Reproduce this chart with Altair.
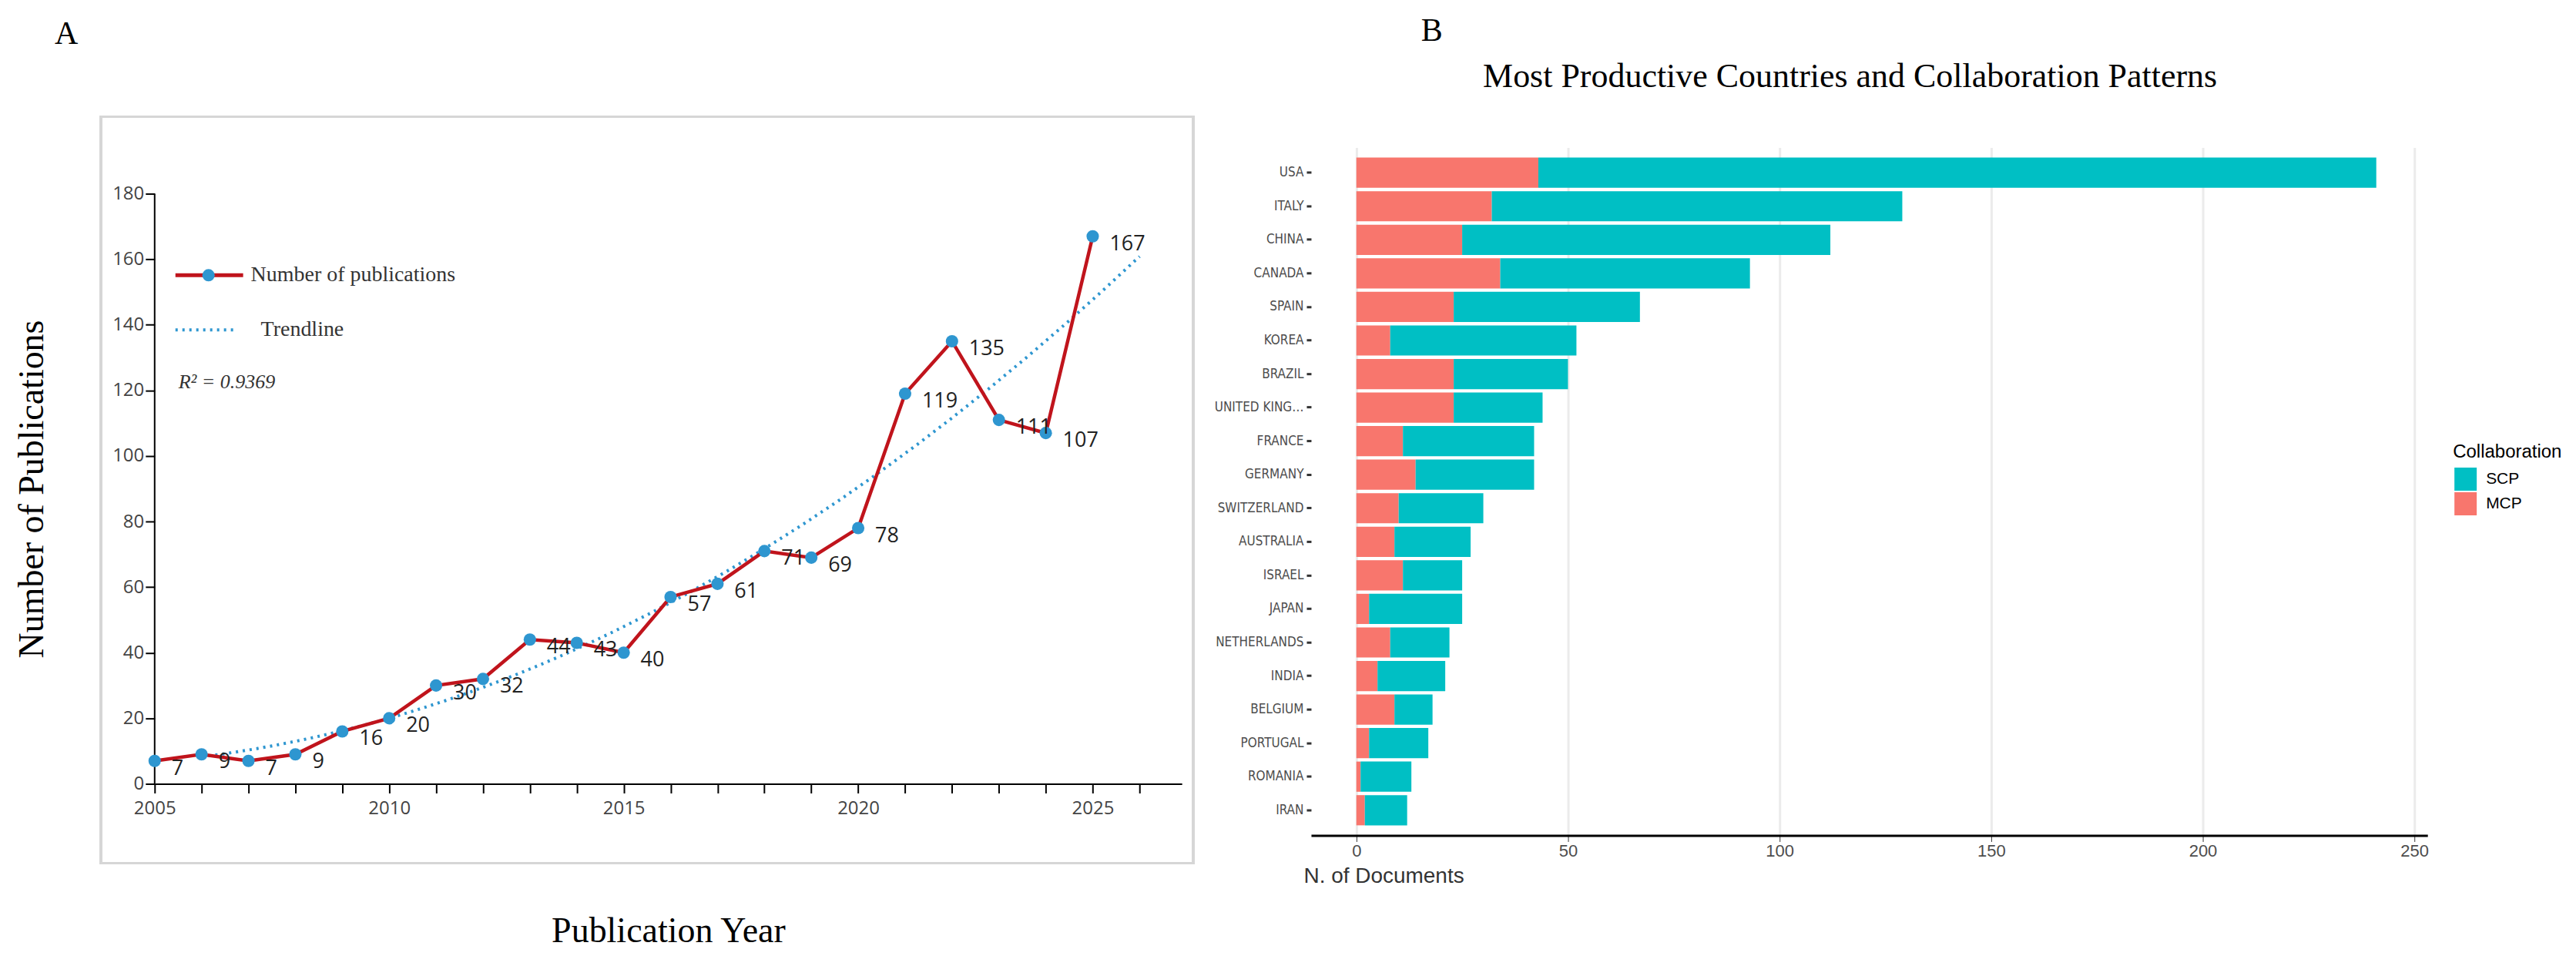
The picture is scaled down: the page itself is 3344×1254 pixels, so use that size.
import pandas as pd
import altair as alt

# Panel A data
years = list(range(2005, 2026))
pubs = [7, 9, 7, 9, 16, 20, 30, 32, 44, 43, 40, 57, 61, 71, 69, 78, 119, 135, 111, 107, 167]

# Panel B data
countries = ['USA', 'ITALY', 'CHINA', 'CANADA', 'SPAIN', 'KOREA', 'BRAZIL', 'UNITED KINGDOM',
             'FRANCE', 'GERMANY', 'SWITZERLAND', 'AUSTRALIA', 'ISRAEL', 'JAPAN', 'NETHERLANDS',
             'INDIA', 'BELGIUM', 'PORTUGAL', 'ROMANIA', 'IRAN']
totals = [241, 129, 112, 93, 67, 52, 50, 44, 42, 42, 30, 27, 25, 25, 22, 21, 18, 17, 13, 12]
mcp = [43, 32, 25, 34, 23, 8, 23, 23, 11, 14, 10, 9, 11, 3, 8, 5, 9, 3, 1, 2]
collab = ['SCP', 'MCP']

RED = '#C0141C'
BLUE = '#2E96D0'
TEAL, SALMON = '#00BFC4', '#F8766D'
W1, H1 = 1335, 767
E = 60  # empty band above the 180 tick so the two panels sit as in the figure
YMAX = 180 * (H1 + E) / H1

df_a = pd.DataFrame({'year': years, 'pubs': pubs})
axis_df = pd.DataFrame({'lo': [0], 'hi': [180]})

xa = alt.X('year:Q', title='Publication Year', scale=alt.Scale(domain=[2005, 2026.9], nice=False),
           axis=alt.Axis(values=list(range(2005, 2027)), labelExpr="datum.value % 5 == 0 ? datum.value : ''",
                         format='d', grid=False, domainColor='black', domainWidth=2, tickColor='black',
                         tickWidth=2, tickSize=12, labelFontSize=24, labelColor='#444', labelFont='Open Sans',
                         labelFlush=False,
                         titleFont='Liberation Serif', titleFontSize=46, titleFontWeight='normal',
                         titleColor='black', titlePadding=125, labelPadding=8))
yscale = alt.Scale(domain=[0, YMAX], nice=False)
ya = alt.Y('pubs:Q', title='Number of Publications', scale=yscale,
           axis=alt.Axis(values=list(range(0, 181, 20)), grid=False, domain=False,
                         tickColor='black', tickWidth=2, tickSize=12, labelFontSize=24, labelColor='#444',
                         labelFont='Open Sans', titleFont='Liberation Serif', titleFontSize=46,
                         titleFontWeight='normal', titleColor='black', titlePadding=80, titleY=E + H1 / 2))

base_a = alt.Chart(df_a)
frame = base_a.mark_rect(fill=None, stroke='#d6d6d6', strokeWidth=3, clip=False).encode(
    x=alt.value(-70), x2=alt.value(W1 + 15), y=alt.value(E - 100), y2=alt.value(E + H1 + 103))
yline = alt.Chart(axis_df).mark_rule(color='black', strokeWidth=2).encode(
    x=alt.value(0), y=alt.Y('lo:Q', scale=yscale), y2='hi:Q')
trend = base_a.transform_regression('year', 'pubs', method='poly', order=2, extent=[2006, 2026]).mark_line(
    color=BLUE, strokeWidth=4, strokeDash=[3, 6]).encode(x=xa, y=ya)
line = base_a.mark_line(color=RED, strokeWidth=4.5).encode(x=xa, y=ya)
pts = base_a.mark_circle(color=BLUE, size=260, opacity=1).encode(x=xa, y=ya)
lbl = base_a.mark_text(align='left', dx=22, dy=10, fontSize=27, font='Open Sans', color='#222').encode(
    x=xa, y=ya, text='pubs:Q')

leg_df = pd.DataFrame({'k': ['Number of publications', 'Trendline', 'R\u00b2 = 0.9369', 'A']})
leg = alt.Chart(leg_df)
leg_line = leg.transform_filter("datum.k == 'Number of publications'").mark_rule(
    color=RED, strokeWidth=5).encode(x=alt.value(27), x2=alt.value(115), y=alt.value(E + 106))
leg_pt = leg.transform_filter("datum.k == 'Number of publications'").mark_circle(
    color=BLUE, size=260, opacity=1).encode(x=alt.value(70), y=alt.value(E + 106))
leg_dot = leg.transform_filter("datum.k == 'Trendline'").mark_rule(
    color=BLUE, strokeWidth=4, strokeDash=[3, 6]).encode(x=alt.value(27), x2=alt.value(107),
                                                         y=alt.value(E + 177))
leg_t1 = leg.transform_filter("datum.k == 'Number of publications'").mark_text(
    align='left', font='Liberation Serif', fontSize=28, color='#333').encode(
    x=alt.value(125), y=alt.value(E + 106), text='k:N')
leg_t2 = leg.transform_filter("datum.k == 'Trendline'").mark_text(
    align='left', font='Liberation Serif', fontSize=28, color='#333').encode(
    x=alt.value(138), y=alt.value(E + 177), text='k:N')
leg_t3 = leg.transform_filter("datum.k == 'R\u00b2 = 0.9369'").mark_text(
    align='left', font='Liberation Serif', fontSize=26, fontStyle='italic', color='#333').encode(
    x=alt.value(31), y=alt.value(E + 245), text='k:N')
tag_a = leg.transform_filter("datum.k == 'A'").mark_text(
    align='left', font='Liberation Serif', fontSize=42, color='black').encode(
    x=alt.value(-130), y=alt.value(E - 208), text='k:N')

panel_a = alt.layer(frame, yline, trend, line, pts, lbl, leg_line, leg_pt, leg_dot, leg_t1, leg_t2, leg_t3,
                    tag_a).properties(width=W1, height=H1 + E)

# Panel B
rows = []
for c, t, m in zip(countries, totals, mcp):
    rows.append({'country': c, 'type': 'MCP', 'n': m, 'order': 0, 'total': t})
    rows.append({'country': c, 'type': 'SCP', 'n': t - m, 'order': 1, 'total': t})
df_b = pd.DataFrame(rows)

W2, H2 = 1451, 894
xb = alt.X('n:Q', stack='zero', title='N. of Documents', scale=alt.Scale(domain=[-10.7, 253.1], nice=False),
           axis=alt.Axis(values=[0, 50, 100, 150, 200, 250], gridColor='#ebebeb', gridWidth=3,
                         domainColor='black', domainWidth=3, tickColor='#333', tickSize=8, labelFontSize=22,
                         labelColor='#4d4d4d', labelFont='Liberation Sans', titleFont='Liberation Sans',
                         titleFontSize=28, titleFontWeight='normal', titleColor='#333', titleAnchor='start',
                         titleAlign='left', titleX=-10, titlePadding=8))
yb = alt.Y('country:N', sort=countries, title=None, scale=alt.Scale(paddingInner=0.1, paddingOuter=0.3),
           axis=alt.Axis(domain=False, gridColor='#ebebeb', gridWidth=3, tickColor='#333', tickSize=6,
                         tickWidth=3, labelFontSize=17, labelColor='#4d4d4d',
                         labelFont='DejaVu Sans Condensed, Liberation Sans', labelPadding=4, labelLimit=125))
bars = alt.Chart(df_b).mark_bar().encode(
    x=xb, y=yb,
    color=alt.Color('type:N', scale=alt.Scale(domain=collab, range=[TEAL, SALMON]), legend=None),
    order=alt.Order('order:Q'))
txt_b = alt.Chart(pd.DataFrame({'t': ['Most Productive Countries and Collaboration Patterns', 'B',
                                      'Collaboration']}))
main_title = txt_b.transform_filter("datum.t.length > 20").mark_text(
    font='Liberation Serif', fontSize=44, color='black', align='center').encode(
    x=alt.value(W2 / 2 - 25), y=alt.value(-92), text='t:N')
tag_b = txt_b.transform_filter("datum.t == 'B'").mark_text(
    font='Liberation Serif', fontSize=42, color='black', align='left').encode(
    x=alt.value(143), y=alt.value(-152), text='t:N')

# legend drawn as marks to place it beside the middle rows, as in ggplot
leg_b = alt.Chart(pd.DataFrame({'type': collab}))
leg_title = txt_b.transform_filter("datum.t == 'Collaboration'").mark_text(
    font='Liberation Sans', fontSize=24, color='black', align='left', baseline='middle').encode(
    x=alt.value(W2 + 33), y=alt.value(396), text='t:N')
leg_sq = leg_b.mark_rect().encode(
    x=alt.value(W2 + 35), x2=alt.value(W2 + 64),
    y=alt.Y('type:N', sort=collab, axis=None, scale=alt.Scale(range=[415, 479], paddingInner=0.06)),
    color=alt.Color('type:N', scale=alt.Scale(domain=collab, range=[TEAL, SALMON]), legend=None))
leg_lb = leg_b.mark_text(font='Liberation Sans', fontSize=21, color='black', align='left').encode(
    x=alt.value(W2 + 76),
    y=alt.Y('type:N', sort=collab, axis=None, scale=alt.Scale(range=[415, 479], paddingInner=0.06),
            bandPosition=0.5),
    text='type:N')

panel_b = alt.layer(bars, main_title, tag_b, leg_title, leg_sq, leg_lb).resolve_scale(
    y='independent').properties(width=W2, height=H2)

chart = alt.hconcat(panel_a, panel_b, spacing=25).configure_view(stroke=None).properties(
    padding={'left': 10, 'top': 10, 'right': 10, 'bottom': 10})
chart.save("out.html", embed_options={"renderer": "svg", "actions": False})
